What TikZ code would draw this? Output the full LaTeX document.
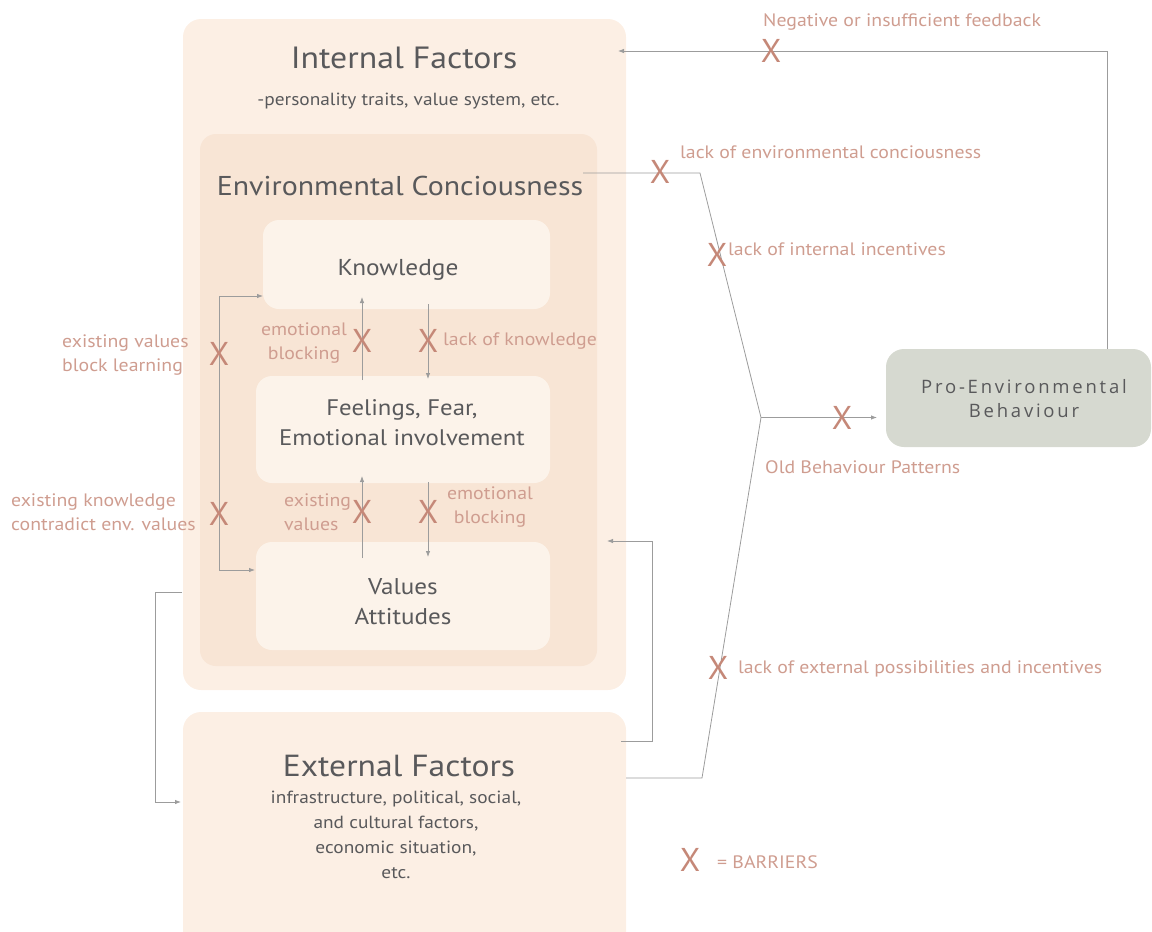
\documentclass[tikz,border=0pt]{standalone}
\usepackage{fontspec}
\setmainfont{PT Sans}[FakeStretch=1.1]
\newfontfamily\xfont{PT Sans}
\newfontfamily\profont[LetterSpace=15]{Open Sans}
\usetikzlibrary{arrows.meta}
\definecolor{cInt}{HTML}{FCEFE4}
\definecolor{cEnv}{HTML}{F8E5D5}
\definecolor{cIn}{HTML}{FCF3EA}
\definecolor{cPro}{HTML}{D6D9D0}
\definecolor{cTxt}{HTML}{59595B}
\definecolor{cLab}{HTML}{CF9D90}
\definecolor{cX}{HTML}{C58878}
\definecolor{cLine}{HTML}{9C9C9C}
\begin{document}
\begin{tikzpicture}[x=1pt,y=-1pt,
  box/.style={draw=none, rounded corners=#1, inner sep=0pt},
  box/.default=16pt,
  txt/.style={text=cTxt, inner sep=0pt, align=center},
  lab/.style={text=cLab, inner sep=0pt, font=\fontsize{18}{24}\selectfont},
  xm/.style={text=cX, inner sep=0pt, font=\xfont\fontsize{33}{33}\selectfont},
  conn/.style={draw=cLine, line width=0.8pt},
  arr/.style={conn, -{Latex[length=6pt,width=4.5pt]}},
  darr/.style={conn, {Latex[length=6pt,width=4.5pt]}-{Latex[length=6pt,width=4.5pt]}}
]
\useasboundingbox (0,0) rectangle (1152,932);
\clip (0,0) rectangle (1152,932);

% boxes
\node[box=18pt, fill=cInt, minimum width=443pt, minimum height=671pt] (int) at (404.5,354.5) {};
\node[box=16pt, fill=cEnv, minimum width=397pt, minimum height=532pt] (env) at (398.5,400) {};
\node[box=16pt, fill=cIn, minimum width=287pt, minimum height=89pt] (know) at (406.5,264.5) {};
\node[box=16pt, fill=cIn, minimum width=294pt, minimum height=107pt] (feel) at (403,429.5) {};
\node[box=16pt, fill=cIn, minimum width=294pt, minimum height=108pt] (vals) at (403,596) {};
\node[box=18pt, fill=cInt, minimum width=443pt, minimum height=250pt] (ext) at (404.5,837) {};
\node[box=18pt, fill=cPro, minimum width=265pt, minimum height=98pt] (pro) at (1018.5,398) {};

% box texts
\node[txt, font=\fontsize{30.7}{36}\selectfont] (intT) at (404,58) {Internal Factors};
\node[txt, font=\fontsize{17.6}{22}\selectfont] (intS) at (408.5,101) {-personality traits, value system, etc.};
\node[txt, font=\fontsize{27.2}{32}\selectfont] (envT) at (400,186) {Environmental Conciousness};
\node[txt, font=\fontsize{23}{30}\selectfont] (knowT) at (398,270) {Knowledge};
\node[txt, font=\fontsize{22.5}{30}\selectfont] (feelT) at (402,423) {Feelings, Fear,\\Emotional involvement};
\node[txt, font=\fontsize{22.8}{30}\selectfont] (valsT) at (403,602) {Values\\Attitudes};
\node[txt, font=\fontsize{30.5}{36}\selectfont] (extT) at (399,766) {External Factors};
\node[txt, font=\fontsize{17.6}{25}\selectfont] (extS) at (396,834.5) {infrastructure, political, social,\\and cultural factors,\\economic situation,\\etc.};
\node[txt, font=\profont\fontsize{18.5}{24}\selectfont] (proT) at (1024,399) {Pro-Environmental\\Behaviour};

% connectors
\coordinate (J) at (761,417.5);
\coordinate (c1) at (700,173);
\coordinate (c2) at (702,778);
\draw[arr] (362,380) -- (362,297);
\draw[arr] (428,304) -- (428,379);
\draw[arr] (362,558) -- (362,476);
\draw[arr] (428,482) -- (428,557);
\draw[darr] (263,296) -- (219,296) -- (219,570) -- (255,570);
\draw[conn] (583,173) -- (c1) -- (J);
\draw[conn] (626,778) -- (c2) -- (J);
\draw[arr] (J) -- (877,417.5);
\draw[arr] (1107,349) -- (1107,51) -- (618,51);
\draw[arr] (621,741) -- (652,741) -- (652,541) -- (607,541);
\draw[arr] (182,592) -- (155,592) -- (155,802) -- (181,802);

% labels
\node[lab, anchor=west] (l1) at (763,22) {Negative or insufficient feedback};
\node[lab, anchor=west] (l2) at (680,152) {lack of environmental conciousness};
\node[lab, anchor=west] (l3) at (728,249) {lack of internal incentives};
\node[lab, anchor=west] (l4) at (765,467) {Old Behaviour Patterns};
\node[lab, anchor=west] (l5) at (738,669) {lack of external possibilities and incentives};
\node[lab, anchor=west, align=left] (l6) at (62,355) {existing values\\block learning};
\node[lab, anchor=west, align=left] (l7) at (11,512) {existing knowledge\\contradict env. values};
\node[lab, align=center] (l8) at (304,343) {emotional\\blocking};
\node[lab, anchor=west] (l9) at (443,341) {lack of knowledge};
\node[lab, anchor=west, align=left] (l10) at (284,512) {existing\\values};
\node[lab, align=center] (l11) at (490,507) {emotional\\blocking};
\node[lab, anchor=west] (l12) at (717,862) {= BARRIERS};

% barrier marks
\node[xm] (x1) at (219,354) {X};
\node[xm] (x2) at (219,514) {X};
\node[xm] (x3) at (362,341) {X};
\node[xm] (x4) at (428,341) {X};
\node[xm] (x5) at (362,512) {X};
\node[xm] (x6) at (428,512) {X};
\node[xm] (x7) at (660,172) {X};
\node[xm] (x8) at (717,255) {X};
\node[xm] (x9) at (842,418) {X};
\node[xm] (x10) at (771,51) {X};
\node[xm] (x11) at (718,668) {X};
\node[xm] (x12) at (690,860) {X};
\end{tikzpicture}
\end{document}
